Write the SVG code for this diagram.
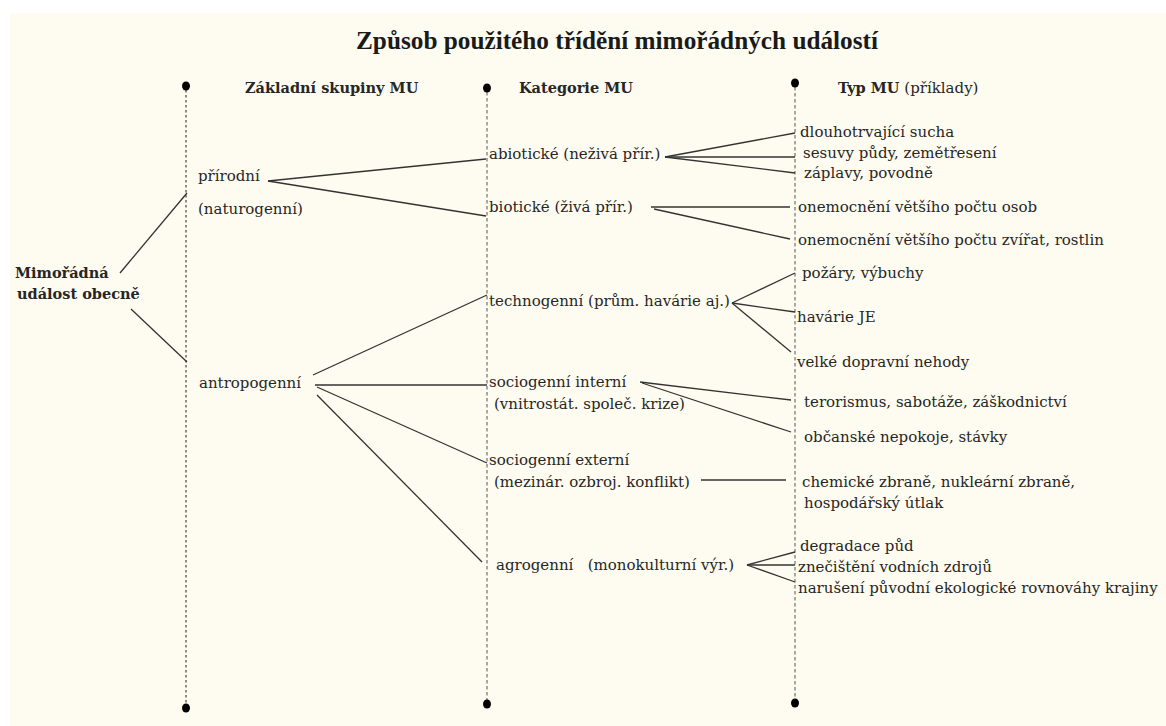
<svg xmlns="http://www.w3.org/2000/svg" width="1166" height="726" viewBox="0 0 1166 726">
<style>
.t{font-family:"DejaVu Serif","Liberation Serif",serif;font-size:15px;fill:#262626}
.b{font-weight:bold;font-size:14.5px}
.ttl{font-family:"Liberation Serif","DejaVu Serif",serif;font-size:25px;font-weight:bold;fill:#1a1a1a}
.ax1{stroke:#707070;stroke-width:1.6;stroke-dasharray:2.5,2.5;fill:none}
.ax2{stroke:#555;stroke-width:1;stroke-dasharray:3.5,2.5;fill:none}
.c line{stroke:#333;stroke-width:1.3}
.dot{fill:#000}
</style>
<rect x="0" y="0" width="1166" height="726" fill="#ffffff"/>
<rect x="10" y="13" width="1156" height="713" fill="#fefcf0"/>
<text class="ttl" x="356" y="49" textLength="522" lengthAdjust="spacingAndGlyphs">Způsob použitého třídění mimořádných událostí</text>
<g id="axes">
<line class="ax1" x1="186" y1="90" x2="186" y2="704"/>
<line class="ax2" x1="487" y1="92" x2="487" y2="700"/>
<line class="ax2" x1="795" y1="87" x2="795" y2="699"/>
<ellipse class="dot" cx="186" cy="86" rx="4" ry="4.5"/>
<ellipse class="dot" cx="487" cy="88" rx="4" ry="4.5"/>
<ellipse class="dot" cx="795" cy="83" rx="4" ry="4.5"/>
<ellipse class="dot" cx="186" cy="708" rx="4" ry="4.5"/>
<ellipse class="dot" cx="487" cy="704" rx="4" ry="4.5"/>
<ellipse class="dot" cx="795" cy="703" rx="4" ry="4.5"/>
</g>
<g id="headers">
<text class="t b" x="245" y="93">Základní skupiny MU</text>
<text class="t b" x="519" y="93">Kategorie MU</text>
<text class="t" x="838" y="93"><tspan class="b">Typ MU</tspan> (příklady)</text>
</g>
<g class="c" id="connectors">
<line x1="120" y1="273" x2="187" y2="193"/>
<line x1="131" y1="309" x2="187" y2="362"/>
<line x1="268" y1="181" x2="486" y2="159"/>
<line x1="268" y1="181" x2="486" y2="216"/>
<line x1="313" y1="375" x2="487" y2="295"/>
<line x1="315" y1="385" x2="487" y2="385"/>
<line x1="317" y1="387" x2="487" y2="463"/>
<line x1="317" y1="395" x2="482" y2="562"/>
<line x1="665" y1="157" x2="795" y2="133"/>
<line x1="665" y1="157" x2="795" y2="157"/>
<line x1="665" y1="157" x2="795" y2="173"/>
<line x1="651" y1="207" x2="790" y2="207"/>
<line x1="654" y1="209" x2="790" y2="239"/>
<line x1="732" y1="303" x2="795" y2="273"/>
<line x1="732" y1="303" x2="795" y2="312"/>
<line x1="732" y1="303" x2="791" y2="352"/>
<line x1="640" y1="382" x2="791" y2="400"/>
<line x1="642" y1="383" x2="791" y2="432"/>
<line x1="701" y1="480" x2="786" y2="480"/>
<line x1="747" y1="565" x2="795" y2="552"/>
<line x1="747" y1="565" x2="795" y2="565"/>
<line x1="747" y1="565" x2="795" y2="582"/>
</g>
<g id="n-root"><text class="t b" x="15" y="278">Mimořádná</text><text class="t b" x="17" y="299">událost obecně</text></g>
<g id="n-prirodni"><text class="t" x="198" y="181">přírodní</text><text class="t" x="198" y="214">(naturogenní)</text></g>
<g id="n-antropogenni"><text class="t" x="199" y="388">antropogenní</text></g>
<g id="n-abioticke"><text class="t" x="489" y="159">abiotické (neživá přír.)</text></g>
<g id="n-bioticke"><text class="t" x="489" y="212">biotické (živá přír.)</text></g>
<g id="n-technogenni"><text class="t" x="489" y="306">technogenní (prům. havárie aj.)</text></g>
<g id="n-socint"><text class="t" x="489" y="387">sociogenní interní</text><text class="t" x="494" y="409">(vnitrostát. společ. krize)</text></g>
<g id="n-socext"><text class="t" x="489" y="465">sociogenní externí</text><text class="t" x="494" y="487">(mezinár. ozbroj. konflikt)</text></g>
<g id="n-agro"><text class="t" x="496" y="570" xml:space="preserve">agrogenní   (monokulturní výr.)</text></g>
<g id="n-sucha"><text class="t" x="800" y="137">dlouhotrvající sucha</text></g>
<g id="n-sesuvy"><text class="t" x="803" y="158">sesuvy půdy, zemětřesení</text></g>
<g id="n-zaplavy"><text class="t" x="804" y="178">záplavy, povodně</text></g>
<g id="n-osob"><text class="t" x="798" y="212">onemocnění většího počtu osob</text></g>
<g id="n-zvirat"><text class="t" x="798" y="245">onemocnění většího počtu zvířat, rostlin</text></g>
<g id="n-pozary"><text class="t" x="802" y="278">požáry, výbuchy</text></g>
<g id="n-je"><text class="t" x="797" y="322">havárie JE</text></g>
<g id="n-doprava"><text class="t" x="797" y="367">velké dopravní nehody</text></g>
<g id="n-teror"><text class="t" x="804" y="407">terorismus, sabotáže, záškodnictví</text></g>
<g id="n-nepokoje"><text class="t" x="804" y="442">občanské nepokoje, stávky</text></g>
<g id="n-zbrane"><text class="t" x="802" y="487">chemické zbraně, nukleární zbraně,</text><text class="t" x="804" y="508">hospodářský útlak</text></g>
<g id="n-degradace"><text class="t" x="800" y="551">degradace půd</text></g>
<g id="n-voda"><text class="t" x="798" y="572">znečištění vodních zdrojů</text></g>
<g id="n-krajina"><text class="t" x="798" y="593">narušení původní ekologické rovnováhy krajiny</text></g>
</svg>
